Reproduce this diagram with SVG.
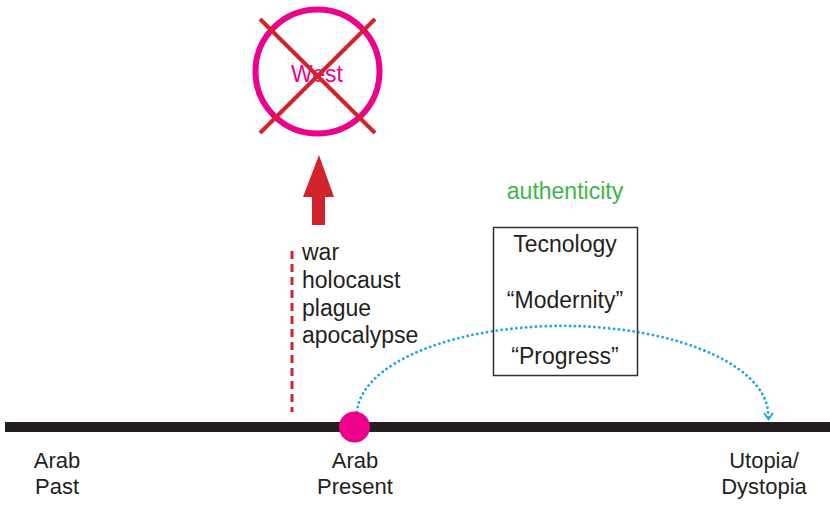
<svg xmlns="http://www.w3.org/2000/svg" width="830" height="506" viewBox="0 0 830 506">
  <style>
    text { font-family: "Liberation Sans", Arial, sans-serif; fill: #231f20; }
    .lbl { font-size: 22px; text-anchor: middle; }
    .list { font-size: 23px; }
    .box { font-size: 23px; text-anchor: middle; }
  </style>
  <rect width="830" height="506" fill="#ffffff"/>

  <!-- timeline -->
  <g id="timeline">
    <rect x="5" y="422" width="825" height="10" fill="#231f20"/>
  </g>

  <g id="connectors">
    <!-- dashed red marker line -->
    <line x1="292" y1="251" x2="292" y2="412" stroke="#d2232a" stroke-width="3" stroke-dasharray="8,5"/>
    <!-- red arrow up -->
    <polygon points="319,155 334,197 325,197 325,225 312,225 312,197 303,197" fill="#d2232a"/>
    <!-- dotted arc from present to the future -->
    <path d="M357,412 A205.5 89 0 0 1 768,418" fill="none" stroke="#1fa9e1" stroke-width="2.8" stroke-dasharray="0.1,4.8" stroke-linecap="round"/>
    <path d="M764,413 L768.5,419 L773,413" fill="none" stroke="#1fa9e1" stroke-width="2"/>
  </g>

  <g id="west">
    <circle cx="317.5" cy="71.5" r="62" fill="none" stroke="#ec008c" stroke-width="6"/>
    <text x="317" y="82" font-size="23" text-anchor="middle" style="fill:#ec008c">West</text>
    <line x1="260" y1="19" x2="375" y2="133" stroke="#d2232a" stroke-width="4"/>
    <line x1="375" y1="19" x2="260" y2="133" stroke="#d2232a" stroke-width="4"/>
  </g>

  <g id="threats">
    <text class="list" x="302" y="260">war</text>
    <text class="list" x="302" y="288">holocaust</text>
    <text class="list" x="302" y="316">plague</text>
    <text class="list" x="302" y="343">apocalypse</text>
  </g>

  <g id="authenticity">
    <text x="565" y="199" font-size="23" text-anchor="middle" style="fill:#3db54a">authenticity</text>
  </g>

  <g id="modernity-box">
    <rect x="493.5" y="227.5" width="144" height="148" fill="none" stroke="#333333" stroke-width="1.5"/>
    <text class="box" x="565" y="252">Tecnology</text>
    <text class="box" x="565" y="308">“Modernity”</text>
    <text class="box" x="565" y="364">“Progress”</text>
  </g>

  <g id="present-dot">
    <circle cx="354.5" cy="427" r="15.5" fill="#ec008c"/>
  </g>

  <g id="past">
    <text class="lbl" x="57" y="468">Arab</text>
    <text class="lbl" x="57" y="494">Past</text>
  </g>
  <g id="present">
    <text class="lbl" x="355" y="468">Arab</text>
    <text class="lbl" x="355" y="494">Present</text>
  </g>
  <g id="future">
    <text class="lbl" x="764" y="468">Utopia/</text>
    <text class="lbl" x="764" y="494">Dystopia</text>
  </g>
</svg>
